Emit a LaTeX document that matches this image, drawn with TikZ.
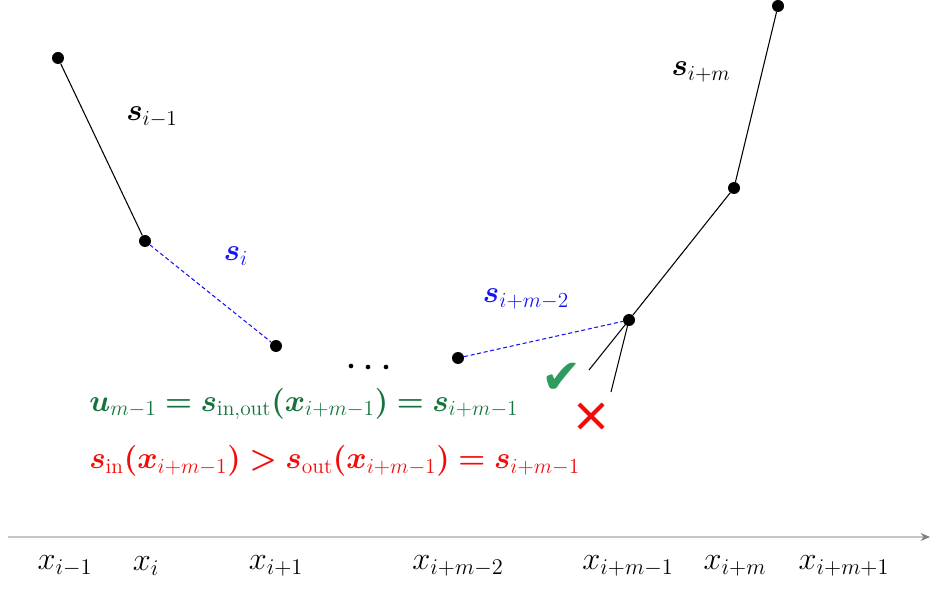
\documentclass[tikz,border=0pt]{standalone}
\usepackage{amsmath,bm,graphicx}
\usepackage{fontspec}
\newfontfamily\symfont{DejaVu Sans}
\usetikzlibrary{arrows.meta,calc}
\definecolor{tgreen}{RGB}{20,115,60}
\definecolor{cgreen}{RGB}{46,155,95}
\definecolor{tblue}{RGB}{20,20,245}
\definecolor{tred}{RGB}{245,10,10}
\newcommand{\bs}{\bm{s}}
\newcommand{\bx}{\bm{x}}
\newcommand{\bu}{\bm{u}}
\newcommand{\lb}[1]{\scalebox{1.115}{#1}}
\newcommand{\ax}[1]{\scalebox{1.17}{#1}}
\begin{document}
\begin{tikzpicture}[x=0.75pt,y=-0.75pt,
  pt/.style={circle,fill=black,inner sep=0pt,minimum size=9pt},
  dotsm/.style={circle,fill=black,inner sep=0pt,minimum size=3.5pt},
  seg/.style={black,line width=0.8pt},
  dseg/.style={tblue,dashed,dash pattern=on 3pt off 2pt,line width=0.8pt},
  lab/.style={font=\fontsize{20.74}{24}\selectfont,inner sep=0pt},
  axlab/.style={font=\fontsize{20.74}{24}\selectfont,inner sep=0pt}]
\useasboundingbox (0,0) rectangle (947,595);
\node[pt] (p1) at (58,58) {};
\node[pt] (p2) at (145,241) {};
\node[pt] (p3) at (276,346) {};
\node[pt] (p4) at (458,358) {};
\node[pt] (p5) at (629,320) {};
\node[pt] (p6) at (734,188) {};
\node[pt] (p7) at (778,6) {};
\node[dotsm] (d1) at (351,366) {};
\node[dotsm] (d2) at (368,367) {};
\node[dotsm] (d3) at (386,367) {};
\coordinate (t1) at (589,370);
\coordinate (t2) at (611,392);
\draw[seg] (p1) -- (p2);
\draw[dseg] (p2) -- (p3);
\draw[dseg] (p4) -- (p5);
\draw[seg] (p5) -- (p6);
\draw[seg] (p6) -- (p7);
\draw[seg] (p5.center) -- (t1);
\draw[seg] (p5.center) -- (t2);
\node[lab] (l1) at (152,117) {\lb{$\bs_{i-1}$}};
\node[lab,text=tblue] (l2) at (236,256) {\lb{$\bs_{i}$}};
\node[lab,text=tblue] (l3) at (526,299) {\lb{$\bs_{i+m-2}$}};
\node[lab] (l4) at (701,72) {\lb{$\bs_{i+m}$}};
\node[font=\symfont\fontsize{36}{36}\selectfont,text=cgreen,inner sep=0pt] (chk) at (562,378) {✔};
\coordinate (xc) at (591,416);
\draw[tred,line width=3pt] ($(xc)+(-12,-12)$) -- ($(xc)+(12,12)$);
\draw[tred,line width=3pt] ($(xc)+(-12,12)$) -- ($(xc)+(12,-12)$);
\node[lab,text=tgreen,anchor=west] (eq1) at (89,404) {\lb{$\bu_{m-1} \mathrel{\bm{=}} \bs_{\text{in,out}}\bm{(}\bx_{i+m-1}\bm{)} \mathrel{\bm{=}} \bs_{i+m-1}$}};
\node[lab,text=tred,anchor=west] (eq2) at (89,461) {\lb{$\bs_{\text{in}}\bm{(}\bx_{i+m-1}\bm{)} \mathrel{\bm{>}} \bs_{\text{out}}\bm{(}\bx_{i+m-1}\bm{)} \mathrel{\bm{=}} \bs_{i+m-1}$}};
\coordinate (a0) at (8,537);
\coordinate (a1) at (930,537);
\draw[gray!45,line width=0.8pt,-{Stealth[length=7pt,width=6pt,color=gray]}] (a0) -- (a1);
\node[axlab] (x1) at (65,566) {\ax{$x_{i-1}$}};
\node[axlab] (x2) at (146,566) {\ax{$x_{i}$}};
\node[axlab] (x3) at (276,566) {\ax{$x_{i+1}$}};
\node[axlab] (x4) at (458,566) {\ax{$x_{i+m-2}$}};
\node[axlab] (x5) at (628,566) {\ax{$x_{i+m-1}$}};
\node[axlab] (x6) at (735,566) {\ax{$x_{i+m}$}};
\node[axlab] (x7) at (844,566) {\ax{$x_{i+m+1}$}};
\end{tikzpicture}
\end{document}
